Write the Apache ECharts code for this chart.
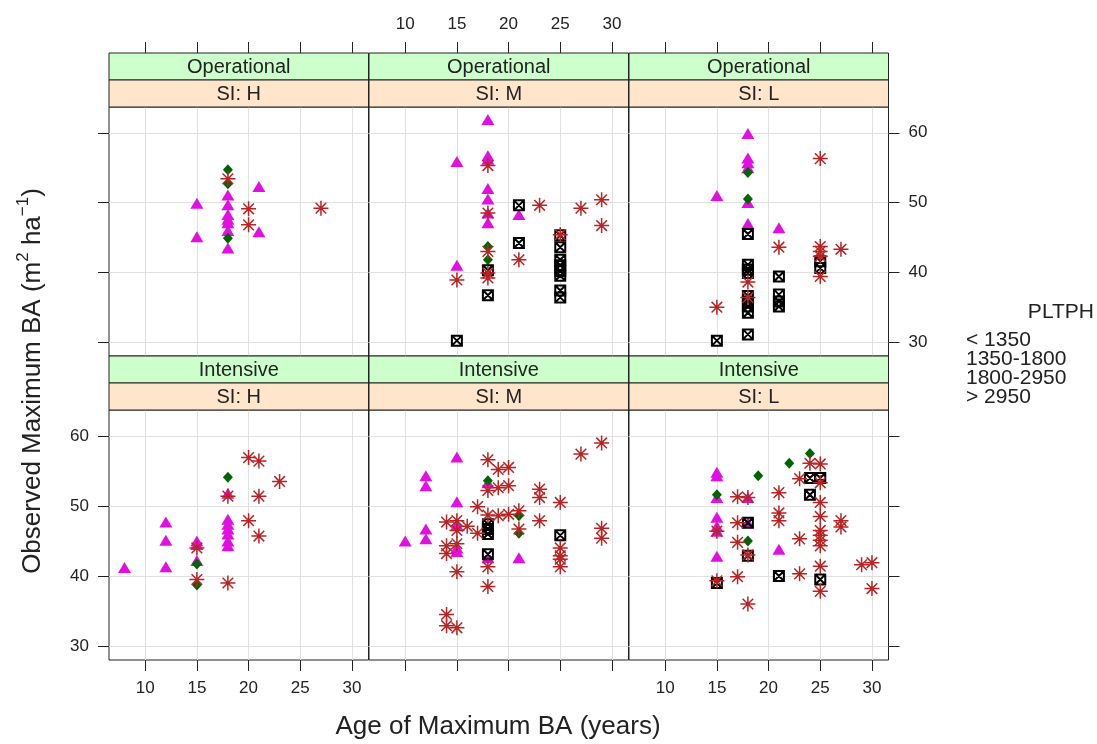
<!DOCTYPE html>
<html>
<head>
<meta charset="utf-8">
<script src="https://cdn.jsdelivr.net/npm/echarts@6/dist/echarts.min.js"></script>
<style>
  html, body { margin: 0; padding: 0; background: #fff; }
  #chart { width: 1097px; height: 744px; }
</style>
</head>
<body>
<div id="chart"></div>
<script>
// group levels (PLTPH)
var groups = ['< 1350', '1350-1800', '1800-2950', '> 2950'];
var rowLabels = ['Operational', 'Intensive'];
var colLabels = ['SI: H', 'SI: M', 'SI: L'];
var xTicks = [10, 15, 20, 25, 30];
var yTicks = [30, 40, 50, 60];

// Operational, SI: H
var opH_lt1350 = [[15,49.9],[15,45.1],[21,52.3],[21,45.8],[18,51.1],[18,49.7],[18,48.3],[18,47.6],[18,47.1],[18,46.0],[18,43.5]];
var opH_1350 = [[18,54.7],[18,52.7],[18,44.9]];
var opH_1800 = [];
var opH_gt2950 = [[18,53.4],[20,49.1],[20,46.8],[27,49.2]];

// Operational, SI: M
var opM_lt1350 = [[18,61.9],[15,55.9],[18,56.7],[18,56.2],[18,52.0],[18,50.5],[18,48.5],[18,47.1],[21,48.3],[15,41.0]];
var opM_1350 = [[18,43.7],[18,41.8]];
var opM_1800 = [[21,49.6],[21,44.2],[18,40.3],[18,36.7],[15,30.2],[25,45.3],[25,43.6],[25,41.8],[25,41.0],[25,40.2],[25,39.5],[25,37.4],[25,36.4]];
var opM_gt2950 = [[18,55.3],[23,49.6],[27,49.2],[29,50.4],[29,46.7],[25,45.4],[21,41.8],[15,38.9],[18,43.0],[18,39.9],[18,39.2],[18,48.5]];

// Operational, SI: L
var opL_lt1350 = [[18,59.9],[18,56.4],[18,55.7],[18,55.0],[15,51.0],[18,50.0],[18,47.0],[21,46.4]];
var opL_1350 = [[18,54.3],[18,50.5]];
var opL_1800 = [[18,45.5],[18,41.1],[18,40.4],[18,39.9],[18,36.6],[18,35.8],[18,35.1],[18,34.2],[18,31.1],[15,30.2],[21,39.4],[21,36.8],[21,35.8],[21,35.1],[25,40.6],[25,41.6]];
var opL_gt2950 = [[25,56.3],[21,43.6],[25,43.7],[25,43.0],[25,42.3],[27,43.3],[25,39.4],[18,38.6],[18,36.4],[15,35.0]];

// Intensive, SI: H
var inH_lt1350 = [[8,41.2],[12,47.7],[12,45.1],[12,41.3],[15,45.0],[15,44.5],[15,42.2],[18,51.8],[18,48.1],[18,47.4],[18,46.7],[18,46.0],[18,45.0],[18,44.3]];
var inH_1350 = [[18,54.1],[15,41.7],[15,38.7]];
var inH_1800 = [];
var inH_gt2950 = [[20,56.9],[21,56.4],[23,53.5],[21,51.4],[18,51.4],[20,47.9],[21,45.7],[15,44.0],[15,39.5],[18,39.0]];

// Intensive, SI: M
var inM_lt1350 = [[15,57.0],[12,54.3],[12,52.9],[15,50.6],[12,46.7],[12,45.3],[10,45.0],[15,47.3],[15,44.0],[15,43.5],[18,53.3],[18,42.6],[21,42.6]];
var inM_1350 = [[21,48.6],[21,46.1],[18,53.6]];
var inM_1800 = [[18,47.4],[18,46.7],[18,46.0],[18,43.1],[25,45.8]];
var inM_gt2950 = [[29,59.0],[27,57.4],[18,56.6],[19,55.2],[20,55.5],[20,52.9],[19,52.6],[18,52.2],[23,52.4],[23,51.2],
  [25,50.5],[17,49.9],[18,48.7],[19,48.6],[20,48.8],[21,49.3],[23,47.9],[14,47.7],[15,47.9],[16,47.1],[15,46.5],[17,46.1],
  [21,46.7],[29,46.8],[29,45.4],[14,44.3],[15,44.6],[14,43.2],[25,44.0],[25,42.9],[25,42.4],[25,41.3],[18,41.3],[15,40.6],
  [18,38.5],[14,34.5],[14,32.9],[15,32.6]];

// Intensive, SI: L
var inL_lt1350 = [[15,54.8],[15,54.3],[15,51.2],[15,48.4],[15,47.1],[15,46.4],[15,42.8],[18,51.2],[18,47.6],[21,43.8]];
var inL_1350 = [[24,57.5],[22,56.1],[19,54.3],[15,51.6],[18,45.0]];
var inL_1800 = [[24,54.0],[25,54.0],[24,51.6],[18,47.6],[18,42.9],[15,39.0],[21,40.0],[25,39.5]];
var inL_gt2950 = [[24,56.1],[25,56.0],[23,53.9],[25,53.3],[21,51.9],[17,51.3],[18,51.2],[25,50.5],[21,49.0],[21,47.9],
  [27,47.9],[27,47.0],[25,48.5],[25,46.5],[25,45.8],[25,45.1],[17,47.6],[15,46.4],[25,44.3],[23,45.3],[17,44.8],[18,43.0],
  [29,41.6],[30,41.9],[25,41.4],[23,40.3],[17,39.9],[15,39.3],[25,37.8],[30,38.2],[18,36.0]];

var panels = [
  [opH_lt1350, opH_1350, opH_1800, opH_gt2950],
  [opM_lt1350, opM_1350, opM_1800, opM_gt2950],
  [opL_lt1350, opL_1350, opL_1800, opL_gt2950],
  [inH_lt1350, inH_1350, inH_1800, inH_gt2950],
  [inM_lt1350, inM_1350, inM_1800, inM_gt2950],
  [inL_lt1350, inL_1350, inL_1800, inL_gt2950]
];

var FONT = '"Liberation Sans", Arial, sans-serif';
var X_MIN = 6.5, X_MAX = 31.6, Y_MIN = 28, Y_MAX = 63.7;
var colLeft = [109, 369, 629];
var colW = 259.5;
var rowTop = [107, 410];
var rowH = [249, 250];
var STRIP_H = 27;

// symbols per group, like pch 17, 18, 7, 8
var symbolStyles = [
  {symbol: 'triangle', size: [13, 11], style: {color: '#E20FE2', opacity: 1}},
  {symbol: 'diamond', size: [10, 11], style: {color: '#006400', opacity: 1}},
  {symbol: 'path://M0,0L10,0L10,10L0,10Z M0,0L10,10 M10,0L0,10', size: 10,
    style: {color: 'rgba(0,0,0,0)', borderColor: '#000', borderWidth: 2, opacity: 1}},
  {symbol: 'path://M5,0L5,10 M0,5L10,5 M1.46,1.46L8.54,8.54 M8.54,1.46L1.46,8.54', size: 15,
    style: {color: 'rgba(0,0,0,0)', borderColor: '#B82424', borderWidth: 1.5, opacity: 1}}
];

var grids = [], xAxes = [], yAxes = [], series = [], graphics = [];

for (var i = 0; i < 6; i++) {
  var row = Math.floor(i / 3), col = i % 3;
  grids.push({
    left: colLeft[col], top: rowTop[row], width: colW, height: rowH[row],
    show: true, borderColor: '#222', borderWidth: 1, backgroundColor: '#fff'
  });
  var xTop = row === 0;
  xAxes.push({
    type: 'value', gridIndex: i, min: X_MIN, max: X_MAX,
    position: xTop ? 'top' : 'bottom',
    offset: xTop ? STRIP_H * 2 : 0,
    axisLine: {show: false},
    axisTick: {show: true, length: 11, customValues: xTicks, lineStyle: {color: '#222'}},
    axisLabel: {show: xTop ? col === 1 : col !== 1, customValues: xTicks, margin: 20,
      fontSize: 17, color: '#222', fontFamily: FONT},
    splitLine: {show: true, lineStyle: {color: '#e0e0e0', width: 1}}
  });
  var showYLab = (row === 0 && col === 2) || (row === 1 && col === 0);
  yAxes.push({
    type: 'value', gridIndex: i, min: Y_MIN, max: Y_MAX,
    position: col === 2 ? 'right' : 'left',
    axisLine: {show: false},
    axisTick: {show: col !== 1, length: 11, customValues: yTicks, lineStyle: {color: '#222'}},
    axisLabel: {show: showYLab, customValues: yTicks, margin: 20,
      fontSize: 17, color: '#222', fontFamily: FONT},
    splitLine: {show: true, lineStyle: {color: '#e0e0e0', width: 1}}
  });
  for (var g = 0; g < 4; g++) {
    series.push({
      name: groups[g], type: 'scatter', xAxisIndex: i, yAxisIndex: i,
      symbol: symbolStyles[g].symbol, symbolSize: symbolStyles[g].size,
      itemStyle: symbolStyles[g].style,
      data: panels[i][g], z: 3 + g
    });
  }
  // strips
  var sTop = rowTop[row] - STRIP_H * 2;
  graphics.push({
    type: 'rect', shape: {x: colLeft[col], y: sTop, width: colW, height: STRIP_H},
    style: {fill: '#CCFFCC', stroke: '#222', lineWidth: 1}, z: 10
  });
  graphics.push({
    type: 'rect', shape: {x: colLeft[col], y: sTop + STRIP_H, width: colW, height: STRIP_H},
    style: {fill: '#FFE5CC', stroke: '#222', lineWidth: 1}, z: 10
  });
  graphics.push({
    type: 'text', x: colLeft[col] + colW / 2, y: sTop + STRIP_H / 2 + 1, z: 11,
    style: {text: rowLabels[row], fontSize: 20, fontFamily: FONT, fill: '#222',
      align: 'center', verticalAlign: 'middle'}
  });
  graphics.push({
    type: 'text', x: colLeft[col] + colW / 2, y: sTop + STRIP_H * 1.5 + 1, z: 11,
    style: {text: colLabels[col], fontSize: 20, fontFamily: FONT, fill: '#222',
      align: 'center', verticalAlign: 'middle'}
  });
}

// axis titles
graphics.push({
  type: 'text', x: 498, y: 727, z: 11,
  style: {text: 'Age of Maximum BA (years)', fontSize: 26, fontFamily: FONT, fill: '#222',
    align: 'center', verticalAlign: 'middle'}
});
graphics.push({
  type: 'text', x: 33, y: 381, rotation: Math.PI / 2, z: 11,
  style: {
    text: '{a|Observed Maximum BA (m}{s|2}{a| ha}{s|−1}{a|)}',
    align: 'center', verticalAlign: 'middle', fill: '#222',
    rich: {
      a: {fontSize: 26, fontFamily: FONT, lineHeight: 36, fill: '#222'},
      s: {fontSize: 17, fontFamily: FONT, verticalAlign: 'top', fill: '#222'}
    }
  }
});

// legend (text only)
graphics.push({
  type: 'text', x: 1094, y: 312, z: 11,
  style: {text: 'PLTPH', fontSize: 21, fontFamily: FONT, fill: '#222', align: 'right', verticalAlign: 'middle'}
});
var legendY = [340, 359, 378, 397];
for (var k = 0; k < groups.length; k++) {
  graphics.push({
    type: 'text', x: 966, y: legendY[k], z: 11,
    style: {text: groups[k], fontSize: 21, fontFamily: FONT, fill: '#222', align: 'left', verticalAlign: 'middle'}
  });
}

var chart = echarts.init(document.getElementById('chart'));
chart.setOption({
  animation: false,
  backgroundColor: '#fff',
  grid: grids,
  xAxis: xAxes,
  yAxis: yAxes,
  series: series,
  graphic: graphics
});
</script>
</body>
</html>
